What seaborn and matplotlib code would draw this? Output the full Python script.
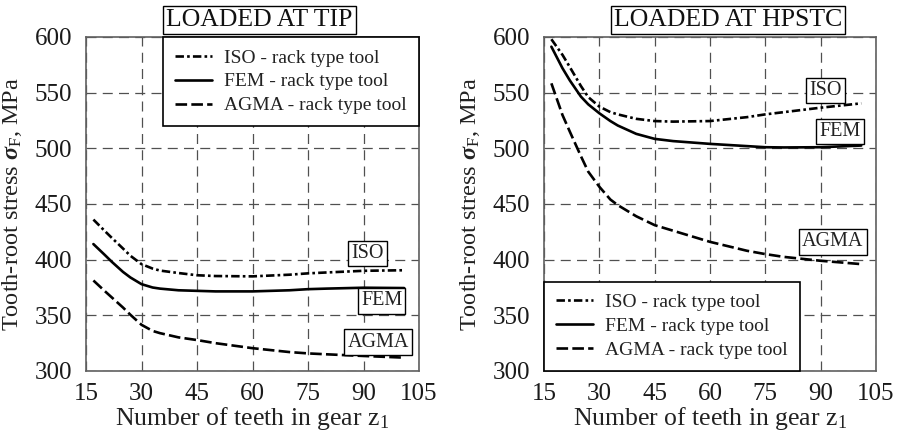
import matplotlib
matplotlib.use("Agg")
import matplotlib.pyplot as plt
import seaborn as sns
import pandas as pd

# ---------------- data ----------------
teeth = [17, 20, 22, 25, 27, 30, 33, 35, 40, 45, 50, 60, 70, 75, 80, 90, 101]

iso_tip = [436, 426, 419.5, 410, 403.5, 396, 392, 390.2, 388, 386, 385.3, 385, 386.5, 387.7, 388.5, 390, 390.5]
fem_tip = [414, 404.5, 398, 389, 384, 378, 375, 374, 372.5, 372, 371.5, 371.5, 372.5, 373.5, 374, 374.8, 374.5]
agma_tip = [381.3, 372, 366, 357, 350.5, 341.5, 336, 334, 330.2, 327.8, 325, 320.5, 317, 315.8, 315, 313.5, 312]

iso_hp = [598, 584, 573, 556, 546, 537.5, 532.5, 530.5, 526.5, 524.5, 524, 524.5, 528, 530.5, 532.5, 536.5, 540.4]
fem_hp = [591.3, 572, 561, 546.5, 539.5, 531.5, 524.5, 520.5, 513, 508.5, 506.5, 504, 502, 501, 500.8, 501, 502.5]
agma_hp = [558.4, 530, 515, 493, 479, 465.5, 454, 449, 439, 431, 426, 416, 408, 405, 402.5, 399, 396]

legend_labels = ["ISO - rack type tool", "FEM - rack type tool", "AGMA - rack type tool"]
curve_tags = ["ISO", "FEM", "AGMA"]
titles = ["LOADED AT TIP", "LOADED AT HPSTC"]
xticks = [15, 30, 45, 60, 75, 90, 105]
yticks = [300, 350, 400, 450, 500, 550, 600]

tag_pos_tip = [(91, 405.6), (94.9, 363), (94, 326)]
tag_pos_hp = [(91.4, 552), (95.2, 515), (93.3, 416)]

# ---------------- style ----------------
sns.set_theme(style="white")
plt.rcParams["font.family"] = ["Liberation Serif", "DejaVu Serif"]
plt.rcParams["mathtext.fontset"] = "custom"
plt.rcParams["mathtext.rm"] = "Liberation Serif"
plt.rcParams["mathtext.it"] = "Liberation Serif:italic:bold"
plt.rcParams["mathtext.bf"] = "Liberation Serif:bold"

line_styles = [(0, (3.2, 1.2, 1.0, 1.2)), "-", (0, (4.4, 1.6))]
LW = 1.9

fig = plt.figure(figsize=(8.97, 4.34), dpi=100)
ax1 = fig.add_axes([86 / 897, 63 / 434, 333 / 897, 334 / 434])
ax2 = fig.add_axes([544 / 897, 63 / 434, 332 / 897, 334 / 434])

panels = [
    (ax1, [iso_tip, fem_tip, agma_tip], tag_pos_tip, titles[0], "upper right", 0.521),
    (ax2, [iso_hp, fem_hp, agma_hp], tag_pos_hp, titles[1], "lower left", 0.554),
]

for ax, series, tags, title, loc, tx in panels:
    for vals, lab, ls in zip(series, legend_labels, line_styles):
        df = pd.DataFrame({"z": teeth, "s": vals})
        sns.lineplot(data=df, x="z", y="s", ax=ax, color="black",
                     linewidth=LW, linestyle=ls, label=lab)
    ax.set_xlim(15, 105)
    ax.set_ylim(300, 600)
    ax.set_xticks(xticks)
    ax.set_yticks(yticks)
    ax.tick_params(axis="both", length=0, labelsize=18, colors="#1a1a1a")
    ax.tick_params(axis="y", pad=10)
    ax.tick_params(axis="x", pad=9)
    ax.grid(True, color="#505050", linewidth=0.9, linestyle=(0, (8, 5)))
    ax.set_axisbelow(True)
    for sp in ax.spines.values():
        sp.set_color("#606060")
        sp.set_linewidth(1.2)
    ax.set_xlabel(r"Number of teeth in gear z$_{\mathrm{1}}$", fontsize=18.5, color="#222222")
    ax.set_ylabel(r"Tooth-root stress $\sigma_{\mathrm{F}}$, MPa", fontsize=17.5, color="#222222")
    ax.xaxis.label.set_va("center")
    ax.yaxis.label.set_va("center")
    ax.xaxis.set_label_coords(0.5, -48 / 334)
    ax.yaxis.set_label_coords(-74 / 333, 0.5)

    for (x, y), t in zip(tags, curve_tags):
        ax.text(x, y, t, fontsize=14.5, ha="center", va="center", color="#222222",
                bbox=dict(boxstyle="square,pad=0.16", fc="white", ec="black", lw=1.0),
                zorder=5)

    ax.text(tx, 1.051, title, transform=ax.transAxes, fontsize=18.5, ha="center",
            va="center", color="#111111",
            bbox=dict(boxstyle="square,pad=0.12", fc="white", ec="black", lw=1.0),
            zorder=6, clip_on=False)

    leg = ax.legend(loc=loc, borderaxespad=0, fontsize=14, frameon=True, fancybox=False,
                    framealpha=1, edgecolor="black", handlelength=1.9,
                    handletextpad=0.62, labelspacing=0.32, borderpad=0.62)
    leg.get_frame().set_linewidth(1.2)
    for t in leg.get_texts():
        t.set_color("#222222")

fig.savefig("out.png", dpi=100)
